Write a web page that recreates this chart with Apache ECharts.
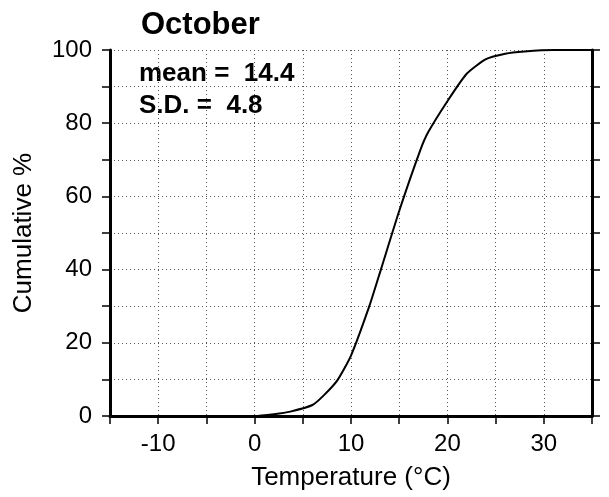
<!DOCTYPE html>
<html>
<head>
<meta charset="utf-8">
<script src="https://cdn.jsdelivr.net/npm/echarts@6/dist/echarts.min.js"></script>
<style>
  html, body { margin: 0; padding: 0; background: #fff; }
  #chart { width: 609px; height: 497px; }
</style>
</head>
<body>
<div id="chart"></div>
<script>
// values
const temps = [-15, 0, 2, 3.7, 6, 7.2, 8.6, 10, 11.9, 13.1, 15, 17.2, 18, 20, 22, 24, 26, 28, 31, 35];
const cumPct = [0, 0, 0.5, 1.2, 3, 5.7, 9.8, 16.5, 30, 40, 56, 72.7, 77.5, 86, 93.5, 97.5, 99, 99.6, 100, 100];
const monthName = 'October';
const statLines = ['mean =  14.4', 'S.D. =  4.8'];

document.addEventListener('DOMContentLoaded', function () {
    const chart = echarts.init(document.getElementById('chart'));
    const font = "'Liberation Sans', Arial, Helvetica, sans-serif";
    const dotted = { color: '#555', width: 1, type: [1, 3] };

    const option = {
        animation: false,
        textStyle: { fontFamily: font, color: '#000' },
        grid: { left: 110, right: 17, top: 50, bottom: 81 },
        xAxis: {
            type: 'value',
            min: -15,
            max: 35,
            interval: 5,
            name: 'Temperature (°C)',
            nameLocation: 'middle',
            nameGap: 49,
            nameTextStyle: { fontSize: 26, fontFamily: font, color: '#000' },
            axisLine: { show: true, onZero: false, lineStyle: { color: '#000', width: 3 } },
            axisTick: { show: true, inside: false, length: 8, lineStyle: { color: '#000', width: 1.5 } },
            axisLabel: {
                margin: 16,
                fontSize: 24,
                color: '#000',
                fontFamily: font,
                formatter: function (v) { return v % 10 === 0 ? String(v) : ''; }
            },
            splitLine: { show: true, lineStyle: dotted }
        },
        yAxis: [
            {
                type: 'value',
                min: 0,
                max: 100,
                interval: 10,
                name: 'Cumulative %',
                nameLocation: 'middle',
                nameGap: 73,
                nameTextStyle: { fontSize: 26, fontFamily: font, color: '#000' },
                axisLine: { show: true, onZero: false, lineStyle: { color: '#000', width: 3 } },
                axisTick: { show: true, inside: false, length: 8, lineStyle: { color: '#000', width: 1.5 } },
                axisLabel: {
                    margin: 18,
                    fontSize: 24,
                    color: '#000',
                    fontFamily: font,
                    formatter: function (v) { return v % 20 === 0 ? String(v) : ''; }
                },
                splitLine: { show: true, lineStyle: dotted }
            },
            {
                type: 'value',
                position: 'right',
                min: 0,
                max: 100,
                interval: 10,
                axisLine: { show: true, onZero: false, lineStyle: { color: '#000', width: 3 } },
                axisTick: { show: true, inside: false, length: 8, lineStyle: { color: '#000', width: 1.5 } },
                axisLabel: { show: false },
                splitLine: { show: false }
            }
        ],
        series: [
            {
                type: 'line',
                data: temps.map((t, i) => [t, cumPct[i]]),
                showSymbol: false,
                smooth: 0.2,
                lineStyle: { color: '#000', width: 2 },
                z: 5
            }
        ],
        graphic: [
            {
                type: 'text', left: 141, top: 10,
                style: { text: monthName, fontSize: 31, fontWeight: 'bold', fontFamily: font, fill: '#000' }
            },
            {
                type: 'text', left: 139, top: 61,
                style: { text: statLines[0], fontSize: 26, fontWeight: 'bold', fontFamily: font, fill: '#000' }
            },
            {
                type: 'text', left: 139, top: 93,
                style: { text: statLines[1], fontSize: 26, fontWeight: 'bold', fontFamily: font, fill: '#000' }
            }
        ]
    };

    chart.setOption(option);
});
</script>
</body>
</html>
